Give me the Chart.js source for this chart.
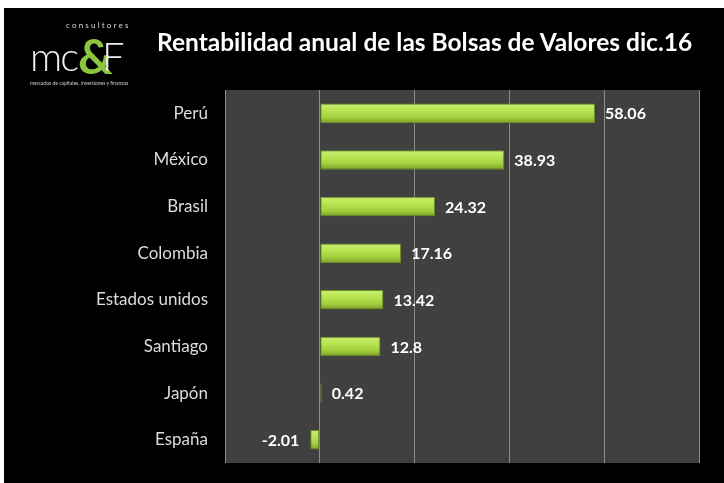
<!DOCTYPE html>
<html>
<head>
<meta charset="utf-8">
<script src="https://cdn.jsdelivr.net/npm/chart.js@4"></script>
<style>
  html, body { margin: 0; padding: 0; background: #ffffff; width: 724px; height: 483px; overflow: hidden; }
  #box { position: absolute; left: 4px; top: 8px; width: 720px; height: 475px; background: #000; }
  #c { position: absolute; left: 0; top: 0; }
  #title { position: absolute; left: 153px; top: 19px; color: #fff; font: bold 24.5px Lato, sans-serif; white-space: nowrap; }
  #logo { position: absolute; left: 26px; top: 10px; width: 110px; height: 70px; color: #fff; font-family: Lato, sans-serif; }
  #logo .cons { position: absolute; left: 36px; top: 2px; font-size: 8px; letter-spacing: 2.2px; color: #ddd; }
  #logo .mc { position: absolute; left: 0px; top: 14px; font-size: 40px; font-weight: 300; letter-spacing: -2px; color: #eee; }
  #logo .amp { position: absolute; left: 48px; top: 9px; font-size: 48px; font-weight: bold; color: #8cc63f; }
  #logo .f { position: absolute; left: 72px; top: 14px; font-size: 40px; font-weight: 300; color: #eee; }
  #logo .tag { position: absolute; left: 0px; top: 62px; font-size: 5px; color: #ccc; white-space: nowrap; }
</style>
</head>
<body>
<div id="box">
  <canvas id="c" width="720" height="475"></canvas>
  <div id="logo">
    <span class="cons">consultores</span>
    <span class="mc">mc</span>
    <span class="amp">&amp;</span>
    <span class="f">F</span>
    <span class="tag">mercados de capitales, inversiones y finanzas</span>
  </div>
  <div id="title">Rentabilidad anual de las Bolsas de Valores dic.16</div>
</div>
<script>
const categories = ["Perú", "México", "Brasil", "Colombia", "Estados unidos", "Santiago", "Japón", "España"];
const values = [58.06, 38.93, 24.32, 17.16, 13.42, 12.8, 0.42, -2.01];
const valueLabels = ["58.06", "38.93", "24.32", "17.16", "13.42", "12.8", "0.42", "-2.01"];

const BAR_PCT = 0.42;

function barFill(ctx) {
  const chart = ctx.chart;
  const ys = chart.scales.y;
  const area = chart.chartArea;
  if (!ys || !area) return '#a8d848';
  const yc = ys.getPixelForValue(ctx.dataIndex);
  const h = (area.bottom - area.top) / categories.length * BAR_PCT;
  const g = chart.ctx.createLinearGradient(0, yc - h / 2, 0, yc + h / 2);
  g.addColorStop(0, '#c9ef70');
  g.addColorStop(0.35, '#b8e552');
  g.addColorStop(0.7, '#a2d03e');
  g.addColorStop(1, '#7a9f28');
  return g;
}

const labelPlugin = {
  id: 'valueLabels',
  afterDatasetsDraw(chart) {
    const c = chart.ctx;
    const meta = chart.getDatasetMeta(0);
    c.save();
    c.font = 'bold 16px Lato, sans-serif';
    c.fillStyle = '#ffffff';
    c.textBaseline = 'middle';
    meta.data.forEach((el, i) => {
      const v = values[i];
      if (v >= 0) {
        c.textAlign = 'left';
        c.fillText(valueLabels[i], el.x + 10, el.y + 1);
      } else {
        c.textAlign = 'right';
        c.fillText(valueLabels[i], el.x - 11, el.y + 1);
      }
    });
    c.restore();
  }
};

const plotBg = {
  id: 'plotBg',
  beforeDraw(chart) {
    const a = chart.chartArea;
    const c = chart.ctx;
    c.save();
    c.fillStyle = '#404040';
    c.fillRect(a.left, a.top, a.right - a.left, a.bottom - a.top);
    c.restore();
  }
};

new Chart(document.getElementById('c'), {
  type: 'bar',
  data: {
    labels: categories,
    datasets: [{
      data: values,
      backgroundColor: barFill,
      borderColor: '#6a8c22',
      borderWidth: 1,
      borderSkipped: false,
      barPercentage: BAR_PCT,
      categoryPercentage: 1.0
    }]
  },
  options: {
    indexAxis: 'y',
    responsive: false,
    animation: false,
    layout: { padding: { left: 0, right: 25, top: 82, bottom: 20 } },
    plugins: {
      legend: { display: false },
      title: { display: false },
      tooltip: { enabled: false }
    },
    scales: {
      x: {
        min: -20,
        max: 80,
        ticks: { display: false, stepSize: 20 },
        grid: { color: '#8c8c8c', lineWidth: 1, drawTicks: false },
        border: { display: false }
      },
      y: {
        afterFit(s) { s.width = 221; s.paddingTop = 0; s.paddingBottom = 0; },
        ticks: { color: '#dcdcdc', font: { family: 'Lato, sans-serif', size: 17 }, padding: 17 },
        grid: { display: false, drawTicks: false },
        border: { display: false }
      }
    }
  },
  plugins: [plotBg, labelPlugin]
});
</script>
</body>
</html>
